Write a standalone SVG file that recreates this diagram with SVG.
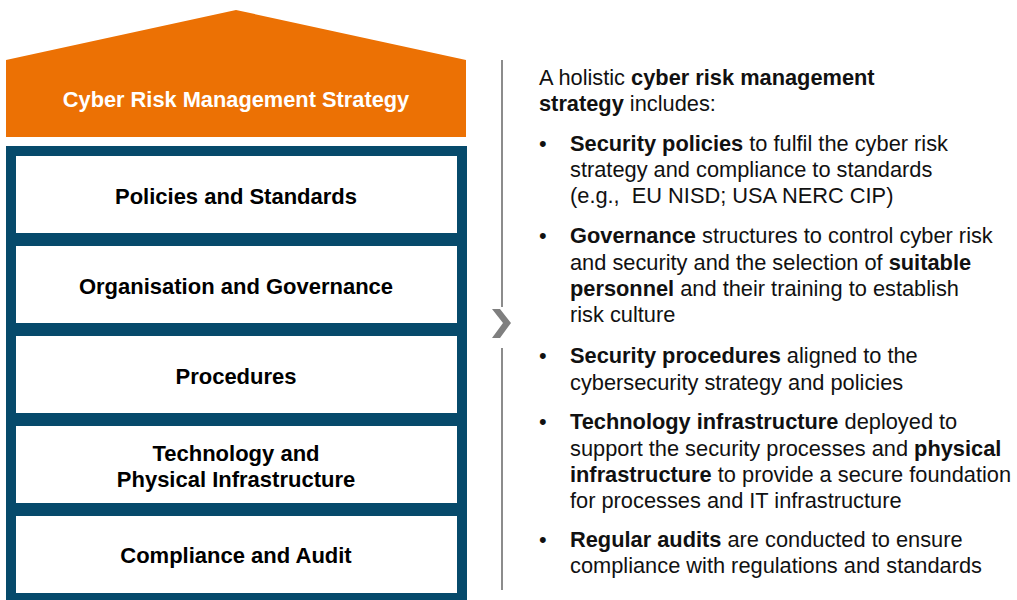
<svg xmlns="http://www.w3.org/2000/svg" width="1017" height="600" viewBox="0 0 1017 600">
<style>
.lbl{font-family:"Liberation Sans",Arial,sans-serif;font-weight:bold;font-size:22px;fill:#000;text-anchor:middle}
.box{fill:#fff}
.txt{font-family:"Liberation Sans",Arial,sans-serif;font-size:21.8px;fill:#111}
.b{font-weight:bold}
</style>
<rect width="1017" height="600" fill="#fff"/>
<g id="roof">
<polygon points="6,60 236,10 466,60 466,137 6,137" fill="#EC7104"/>
<text class="lbl" x="236" y="107" style="fill:#fff;font-size:21.8px">Cyber Risk Management Strategy</text>
</g>
<g id="frame">
<rect x="6" y="146" width="461" height="454" fill="#064A6B"/>
</g>
<g id="n1"><rect class="box" x="16" y="156" width="441" height="77"/><text class="lbl" x="236" y="204">Policies and Standards</text></g>
<g id="n2"><rect class="box" x="16" y="246" width="441" height="77"/><text class="lbl" x="236" y="294">Organisation and Governance</text></g>
<g id="n3"><rect class="box" x="16" y="336" width="441" height="77"/><text class="lbl" x="236" y="384">Procedures</text></g>
<g id="n4"><rect class="box" x="16" y="426" width="441" height="77"/><text class="lbl" x="236" y="461">Technology and</text><text class="lbl" x="236" y="487">Physical Infrastructure</text></g>
<g id="n5"><rect class="box" x="16" y="516" width="441" height="77"/><text class="lbl" x="236" y="563">Compliance and Audit</text></g>
<g id="connectors">
<line x1="502" y1="60" x2="502" y2="307" stroke="#8C8C8C" stroke-width="2"/>
<line x1="502" y1="348" x2="502" y2="590" stroke="#8C8C8C" stroke-width="2"/>
<polygon points="492,309 500,309 511,323 500,338 492,338 503,323" fill="#7F7F7F"/>
</g>
<g id="description" class="txt">
<text x="539" y="85">A holistic <tspan class="b">cyber risk management</tspan></text>
<text x="539" y="111"><tspan class="b">strategy</tspan> includes:</text>
<text x="539" y="151">•</text>
<text x="570" y="151"><tspan class="b">Security policies</tspan> to fulfil the cyber risk</text>
<text x="570" y="177">strategy and compliance to standards</text>
<text x="570" y="203" xml:space="preserve">(e.g.,  EU NISD; USA NERC CIP)</text>
<text x="539" y="243">•</text>
<text x="570" y="243"><tspan class="b">Governance</tspan> structures to control cyber risk</text>
<text x="570" y="270">and security and the selection of <tspan class="b">suitable</tspan></text>
<text x="570" y="296"><tspan class="b">personnel</tspan> and their training to establish</text>
<text x="570" y="322">risk culture</text>
<text x="539" y="363">•</text>
<text x="570" y="363"><tspan class="b">Security procedures</tspan> aligned to the</text>
<text x="570" y="390">cybersecurity strategy and policies</text>
<text x="539" y="429">•</text>
<text x="570" y="429"><tspan class="b">Technology infrastructure</tspan> deployed to</text>
<text x="570" y="456">support the security processes and <tspan class="b">physical</tspan></text>
<text x="570" y="482"><tspan class="b">infrastructure</tspan> to provide a secure foundation</text>
<text x="570" y="508">for processes and IT infrastructure</text>
<text x="539" y="547">•</text>
<text x="570" y="547"><tspan class="b">Regular audits</tspan> are conducted to ensure</text>
<text x="570" y="573">compliance with regulations and standards</text>
</g>
</svg>
